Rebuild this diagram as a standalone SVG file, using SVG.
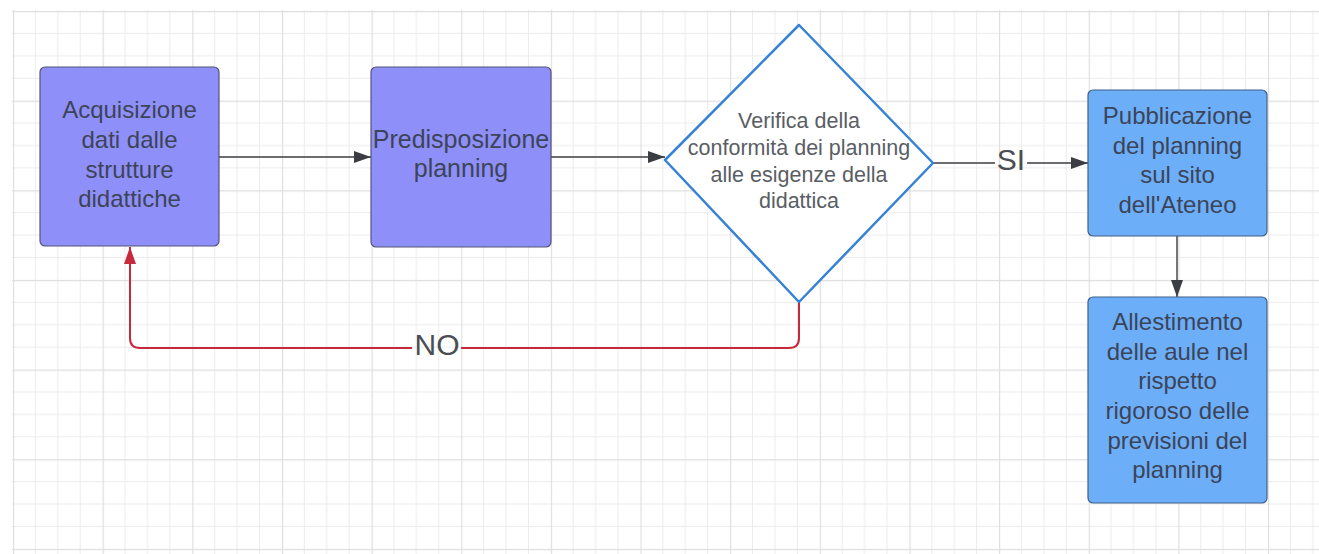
<svg xmlns="http://www.w3.org/2000/svg" width="1319" height="554" viewBox="0 0 1319 554">
  <style>
    .t { font-family: "Liberation Sans", Arial, sans-serif; text-anchor: middle; }
    .box-purple { fill: #8f8ff9; stroke: #545478; stroke-width: 1.2; }
    .box-blue { fill: #6caef8; stroke: #3f5f86; stroke-width: 1.2; }
    .boxtext { fill: #3c4458; font-size: 24px; }
    .dtext { fill: #5a5e64; font-size: 21.5px; }
    .lbl { fill: #4a4d52; font-size: 30px; }
    .conn { fill: none; stroke: #3a3d42; stroke-width: 1.4; }
    .red { fill: none; stroke: #c8283c; stroke-width: 2; }
  </style>
  <defs>
    <pattern id="grid" x="13" y="11" width="89.64" height="89.64" patternUnits="userSpaceOnUse">
      <path d="M22.41,0 V89.64 M44.82,0 V89.64 M67.23,0 V89.64 M0,22.41 H89.64 M0,44.82 H89.64 M0,67.23 H89.64" stroke="#ececec" stroke-width="1" fill="none"/>
      <path d="M0.5,0 V89.64 M0,0.5 H89.64" stroke="#dedede" stroke-width="1.3" fill="none"/>
    </pattern>
    <marker id="arrDark" markerUnits="userSpaceOnUse" markerWidth="18" markerHeight="12" refX="17" refY="6" orient="auto">
      <path d="M0,0 L17,6 L0,12 Z" fill="#3a3d42"/>
    </marker>
    <marker id="arrRed" markerUnits="userSpaceOnUse" markerWidth="18" markerHeight="12" refX="17" refY="6" orient="auto">
      <path d="M0,0 L17,6 L0,12 Z" fill="#c8283c"/>
    </marker>
  </defs>
  <rect x="0" y="0" width="1319" height="554" fill="#ffffff"/>
  <rect x="12" y="10" width="1307" height="544" fill="url(#grid)"/>

  <g id="connectors">
    <path class="conn" d="M219,157 L371,157" marker-end="url(#arrDark)"/>
    <path class="conn" d="M551,157 L665,157" marker-end="url(#arrDark)"/>
    <path class="conn" d="M933,163 L995,163"/>
    <path class="conn" d="M1027,163 L1088,163" marker-end="url(#arrDark)"/>
    <text class="t lbl" x="1011" y="170">SI</text>
    <path class="conn" d="M1177,236 L1177,297" marker-end="url(#arrDark)"/>
    <path class="red" d="M799,302 L799,338 Q799,348 789,348 L461,348"/>
    <path class="red" d="M412,348 L140,348 Q130,348 130,338 L130,247" marker-end="url(#arrRed)"/>
    <text class="t lbl" x="437" y="355">NO</text>
  </g>

  <g id="node-acquisizione">
    <rect class="box-purple" x="40" y="67" width="179" height="179" rx="5"/>
    <text class="t boxtext" x="129.5" y="118">Acquisizione</text>
    <text class="t boxtext" x="129.5" y="148">dati dalle</text>
    <text class="t boxtext" x="129.5" y="178">strutture</text>
    <text class="t boxtext" x="129.5" y="207">didattiche</text>
  </g>

  <g id="node-predisposizione">
    <rect class="box-purple" x="371" y="67" width="180" height="180" rx="5"/>
    <text class="t boxtext" x="461" y="148" style="font-size:25px">Predisposizione</text>
    <text class="t boxtext" x="461" y="177" style="font-size:25px">planning</text>
  </g>

  <g id="node-verifica">
    <path d="M799,25 L933,163 L799,302 L665,160 Z" fill="#ffffff" stroke="#3582d6" stroke-width="2.5" stroke-linejoin="round"/>
    <text class="t dtext" x="799" y="128">Verifica della</text>
    <text class="t dtext" x="799" y="155">conformità dei planning</text>
    <text class="t dtext" x="799" y="182">alle esigenze della</text>
    <text class="t dtext" x="799" y="208">didattica</text>
  </g>

  <g id="node-pubblicazione">
    <rect class="box-blue" x="1088" y="90" width="179" height="146" rx="5"/>
    <text class="t boxtext" x="1177.5" y="124">Pubblicazione</text>
    <text class="t boxtext" x="1177.5" y="154">del planning</text>
    <text class="t boxtext" x="1177.5" y="183">sul sito</text>
    <text class="t boxtext" x="1177.5" y="213">dell'Ateneo</text>
  </g>

  <g id="node-allestimento">
    <rect class="box-blue" x="1088" y="297" width="179" height="206" rx="5"/>
    <text class="t boxtext" x="1177.5" y="330">Allestimento</text>
    <text class="t boxtext" x="1177.5" y="360">delle aule nel</text>
    <text class="t boxtext" x="1177.5" y="389">rispetto</text>
    <text class="t boxtext" x="1177.5" y="419">rigoroso delle</text>
    <text class="t boxtext" x="1177.5" y="449">previsioni del</text>
    <text class="t boxtext" x="1177.5" y="478">planning</text>
  </g>
</svg>
